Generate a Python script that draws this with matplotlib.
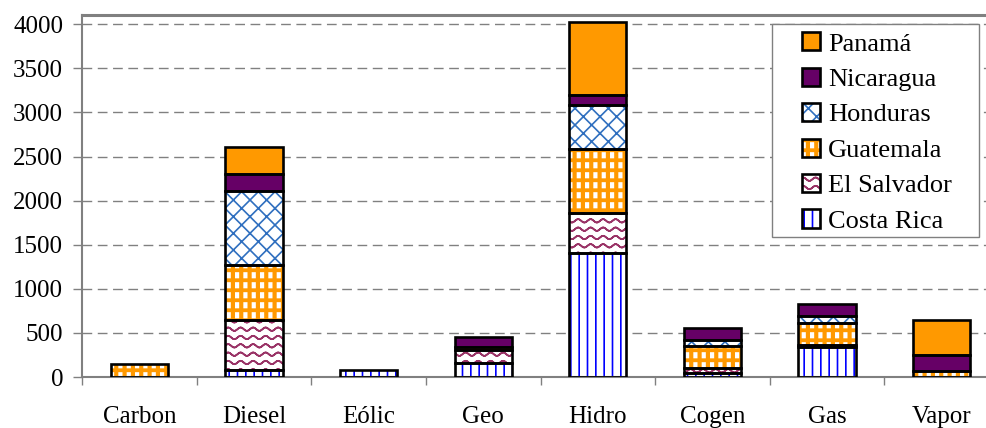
import warnings
import numpy as np
import matplotlib
matplotlib.use("Agg")
import matplotlib.pyplot as plt
import matplotlib.hatch as mhatch
from matplotlib.path import Path
from matplotlib.patches import Patch, Rectangle

warnings.filterwarnings("ignore")

# Installed capacity (MW) by technology and country
categories = ['Carbon', 'Diesel', 'Eólic', 'Geo', 'Hidro', 'Cogen', 'Gas', 'Vapor']
costa_rica = [0, 85, 75, 160, 1410, 40, 340, 0]
el_salvador = [0, 560, 0, 150, 455, 60, 20, 0]
guatemala = [145, 630, 0, 30, 725, 250, 250, 65]
honduras = [0, 835, 0, 0, 500, 70, 80, 0]
nicaragua = [0, 195, 0, 115, 105, 140, 135, 185]
panama = [0, 300, 0, 0, 830, 0, 0, 400]


# extra hatch textures: '~' wavy lines, '#' small filled squares
class WaveHatch(mhatch.HatchPatternBase):
    def __init__(self, hatch, density):
        self.rows = hatch.count('~') * 12
        self.npts = 8 * 12 + 1
        self.num_vertices = self.rows * self.npts * 2

    def set_vertices_and_codes(self, vertices, codes):
        xs = np.linspace(0, 1, self.npts)
        for i in range(self.rows):
            ys = (i + 0.5) / self.rows + 0.017 * np.sin(2 * np.pi * 8 * xs)
            s = slice(i * 2 * self.npts, (i + 1) * 2 * self.npts)
            vertices[s, 0] = np.r_[xs, xs[::-1]]
            vertices[s, 1] = np.r_[ys, ys[::-1]]
            c = np.full(2 * self.npts, Path.LINETO, dtype=Path.code_type)
            c[0] = Path.MOVETO
            codes[s] = c


class CheckHatch(mhatch.HatchPatternBase):
    def __init__(self, hatch, density):
        self.nx = hatch.count('#') * 12
        self.ny = hatch.count('#') * 10
        self.num_vertices = self.nx * self.ny * 5

    def set_vertices_and_codes(self, vertices, codes):
        w = 0.025
        h = 0.045
        k = 0
        for i in range(self.nx):
            for j in range(self.ny):
                x0 = (i + 0.3) / self.nx
                y0 = (j + 0.25) / self.ny
                vertices[k:k + 5] = [(x0, y0), (x0 + w, y0), (x0 + w, y0 + h),
                                     (x0, y0 + h), (x0, y0)]
                codes[k:k + 5] = [Path.MOVETO, Path.LINETO, Path.LINETO,
                                  Path.LINETO, Path.CLOSEPOLY]
                k += 5


mhatch._hatch_types.append(WaveHatch)
mhatch._hatch_types.append(CheckHatch)

plt.rcParams['font.family'] = ['Liberation Serif', 'DejaVu Serif']
plt.rcParams['hatch.linewidth'] = 1.2

orange = '#FF9900'
purple = '#660066'
series = [
    ('Costa Rica', costa_rica, 'white', '||', '#0000FF'),
    ('El Salvador', el_salvador, 'white', '~', '#993366'),
    ('Guatemala', guatemala, orange, '#', 'white'),
    ('Honduras', honduras, 'white', 'xx', '#2F6FBF'),
    ('Nicaragua', nicaragua, purple, None, purple),
    ('Panamá', panama, orange, None, orange),
]

fig = plt.figure(figsize=(9.87, 4.28), dpi=100)
ax = fig.add_axes([82 / 987, 1 - 377 / 428, 917 / 987, 362 / 428])

x = np.arange(len(categories))
bottom = np.zeros(len(categories))
handles = []
for name, vals, face, hatch, hc in series:
    vals = np.array(vals, dtype=float)
    m = vals > 0
    ax.bar(x[m], vals[m], 0.5, bottom=bottom[m], color=face, hatch=hatch,
           edgecolor=hc, linewidth=0, zorder=2)
    ax.bar(x[m], vals[m], 0.5, bottom=bottom[m], fill=False,
           edgecolor='black', linewidth=1.9, zorder=3)
    bottom += vals
    handles.append((Patch(facecolor=face, hatch=hatch, edgecolor=hc, linewidth=0),
                    Patch(fill=False, edgecolor='black', linewidth=1.9)))

ax.set_xlim(-0.5, len(categories) - 0.5)
ax.set_ylim(0, 4105)
ax.set_yticks(np.arange(0, 4001, 500))
ax.set_xticks(x)
ax.set_xticklabels(categories)
ax.set_xticks(np.arange(-0.5, len(categories)), minor=True)
ax.tick_params(axis='x', which='major', length=0, pad=21, labelsize=18)
ax.tick_params(axis='x', which='minor', length=6, width=1, color='#808080')
ax.tick_params(axis='y', length=6.5, width=1, color='#808080', pad=7, labelsize=18)

ax.yaxis.grid(True, color='#808080', linewidth=1, dashes=(7, 4))
ax.set_axisbelow(True)

for side in ['left', 'bottom']:
    ax.spines[side].set_color('#808080')
    ax.spines[side].set_linewidth(1.5)
ax.spines['top'].set_color('#808080')
ax.spines['top'].set_linewidth(2.2)
ax.spines['right'].set_visible(False)

# legend box (frame drawn separately so padding matches the reference)
fig.patches.append(Rectangle((771.7 / 987, 1 - 237 / 428), 207.3 / 987, 213.3 / 428,
                             transform=fig.transFigure, facecolor='white',
                             edgecolor='#808080', linewidth=1, zorder=2))
fig.legend(handles[::-1], [s[0] for s in series][::-1], loc='upper left',
           bbox_to_anchor=(789 / 987, 1 - 19 / 428), frameon=False, fontsize=19,
           borderpad=0, handlelength=0.68, handleheight=0.68, handletextpad=0.3,
           labelspacing=0.46)

fig.savefig('out.png', dpi=100)
